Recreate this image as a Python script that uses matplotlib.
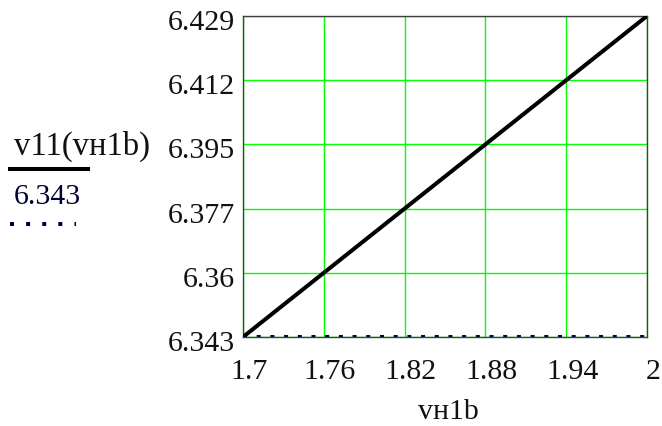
import matplotlib
matplotlib.use("Agg")
import matplotlib.pyplot as plt
from matplotlib.lines import Line2D
import matplotlib.transforms as mtransforms

# Data
x_vals = [1.7, 1.76, 1.82, 1.88, 1.94, 2.0]
v11_vals = [6.343, 6.3602, 6.3774, 6.3946, 6.4118, 6.429]
ref_level = 6.343
x_ticks = [1.7, 1.76, 1.82, 1.88, 1.94, 2.0]
x_tick_labels = ["1.7", "1.76", "1.82", "1.88", "1.94", "2"]
y_ticks = [6.343, 6.3602, 6.3774, 6.3946, 6.4118, 6.429]
y_tick_labels = ["6.343", "6.36", "6.377", "6.395", "6.412", "6.429"]

FONT = "Liberation Serif"
FS = 21.5
TXT = "#111111"

fig = plt.figure(figsize=(6.62, 4.27), dpi=100)
W, H = 662, 427
L, R, T, B = 243, 647, 17, 338
ax = fig.add_axes([L / W, 1 - B / H, (R - L) / W, (B - T) / H])

ax.plot(x_vals, v11_vals, color="black", lw=2.9, solid_capstyle="round", zorder=3)
ax.plot([x_vals[0], x_vals[-1]], [ref_level, ref_level], color="#000040", lw=2.9,
        linestyle=(0, (1, 2.4)), dash_capstyle="butt", zorder=3)

ax.set_xlim(x_ticks[0], x_ticks[-1])
ax.set_ylim(y_ticks[0], y_ticks[-1])
ax.set_xticks(x_ticks)
ax.set_xticklabels(x_tick_labels, fontfamily=FONT, fontsize=FS, color=TXT)
ax.set_yticks(y_ticks)
ax.set_yticklabels(y_tick_labels, fontfamily=FONT, fontsize=FS, color=TXT)
ax.tick_params(axis="both", length=0)
ax.tick_params(axis="x", pad=15)
ax.tick_params(axis="y", pad=6)
ax.grid(True, color="#00ff00", lw=1.0)
ax.set_axisbelow(True)
for s in ax.spines.values():
    s.set_color("#404040")
    s.set_linewidth(1.0)

dx = mtransforms.ScaledTranslation(6 / 100, 0, fig.dpi_scale_trans)
for lab in ax.get_xticklabels():
    lab.set_transform(lab.get_transform() + dx)
dy = mtransforms.ScaledTranslation(0, -3 / 100, fig.dpi_scale_trans)
for lab in ax.get_yticklabels():
    lab.set_transform(lab.get_transform() + dy)

fig.text(448 / W, 1.5 / H, "vн1b", fontfamily=FONT, fontsize=FS,
         ha="center", va="bottom", color=TXT)

# Legend on the left
fig.text(14 / W, 1 - 146 / H, "v11(vн1b)", fontfamily=FONT, fontsize=23.5,
         ha="left", va="center", color=TXT)
fig.add_artist(Line2D([10 / W, 88 / W], [1 - 170 / H, 1 - 170 / H],
                      transform=fig.transFigure, color="black", lw=2.9))
fig.text(14 / W, 1 - 197 / H, "6.343", fontfamily=FONT, fontsize=FS,
         ha="left", va="center", color="#000033")
fig.add_artist(Line2D([10 / W, 76 / W], [1 - 225 / H, 1 - 225 / H],
                      transform=fig.transFigure, color="#000040", lw=2.9,
                      linestyle=(0, (1, 3)), dash_capstyle="butt"))

fig.savefig("out.png", dpi=100)
